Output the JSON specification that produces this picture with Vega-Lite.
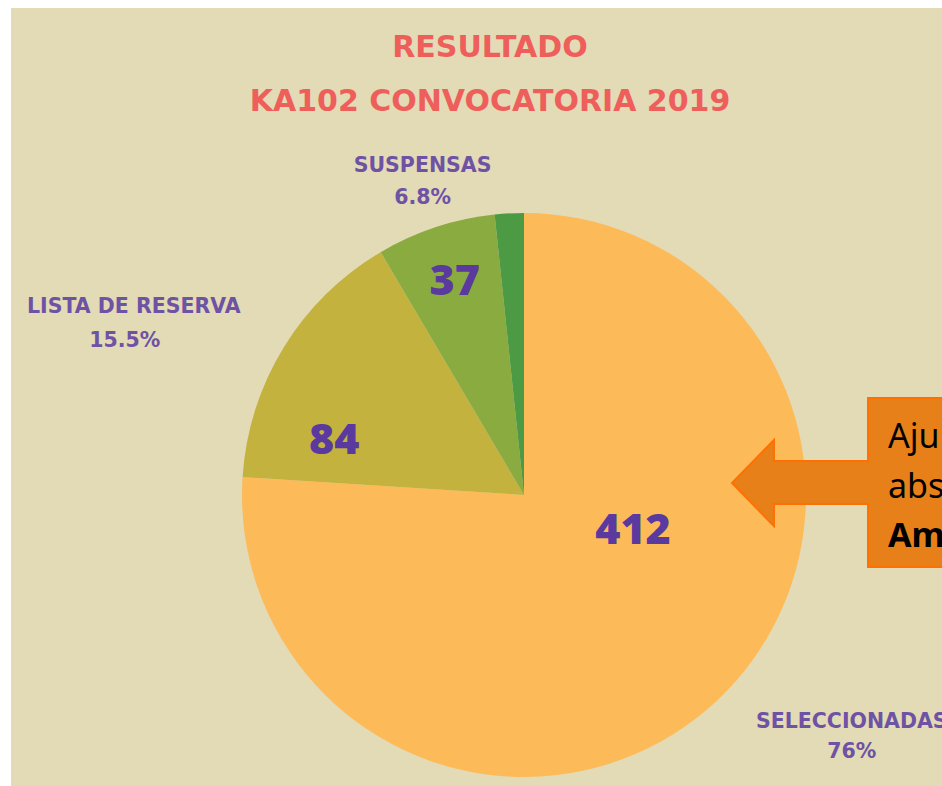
{
  "$schema": "https://vega.github.io/schema/vega-lite/v6.json",
  "width": 942,
  "height": 786,
  "autosize": {"type": "none"},
  "padding": 0,
  "background": "#FFFFFF",
  "view": {"stroke": null},
  "title": {
    "text": ["RESULTADO", "KA102 CONVOCATORIA 2019"],
    "font": "DejaVu Sans",
    "fontWeight": "bold",
    "fontSize": 30,
    "color": "#EE5F5B",
    "lineHeight": 54,
    "anchor": "middle",
    "frame": "group",
    "orient": "top",
    "dx": 19,
    "offset": -117
  },
  "data": {
    "values": [
      {"categoria": "SELECCIONADAS", "solicitudes": 412, "porcentaje": "76%", "orden": 1},
      {"categoria": "LISTA DE RESERVA", "solicitudes": 84, "porcentaje": "15.5%", "orden": 2},
      {"categoria": "SUSPENSAS", "solicitudes": 37, "porcentaje": "6.8%", "orden": 3},
      {"categoria": "OTRAS", "solicitudes": 9, "porcentaje": "1.7%", "orden": 4}
    ]
  },
  "layer": [
    {
      "data": {"values": [{}]},
      "mark": {"type": "rect", "fill": "#E3DAB6"},
      "encoding": {
        "x": {"datum": 11, "type": "quantitative", "scale": {"domain": [0, 942], "nice": false, "zero": false}, "axis": null},
        "x2": {"datum": 942},
        "y": {"datum": 8, "type": "quantitative", "scale": {"domain": [0, 786], "nice": false, "zero": false, "reverse": true}, "axis": null},
        "y2": {"datum": 786}
      }
    },
    {
      "mark": {"type": "arc", "outerRadius": 282},
      "encoding": {
        "theta": {"field": "solicitudes", "type": "quantitative", "stack": true},
        "order": {"field": "orden", "type": "quantitative"},
        "color": {"field": "categoria", "type": "nominal", "legend": null,
          "scale": {"domain": ["SELECCIONADAS", "LISTA DE RESERVA", "SUSPENSAS", "OTRAS"], "range": ["#FDBA59", "#C3B23E", "#8AAB40", "#4D9A45"]}},
        "x": {"datum": 524, "type": "quantitative", "scale": {"domain": [0, 942], "nice": false, "zero": false}, "axis": null},
        "y": {"datum": 495, "type": "quantitative", "scale": {"domain": [0, 786], "nice": false, "zero": false, "reverse": true}, "axis": null}
      }
    },
    {
      "mark": {"type": "text", "radius": 114, "dx": 31, "dy": -47, "font": "Open Sans", "fontWeight": 800, "fontSize": 43, "color": "#5A3A9E", "align": "center", "baseline": "middle"},
      "encoding": {
        "theta": {"field": "solicitudes", "type": "quantitative", "stack": true},
        "order": {"field": "orden", "type": "quantitative"},
        "x": {"datum": 524, "type": "quantitative", "scale": {"domain": [0, 942], "nice": false, "zero": false}, "axis": null},
        "y": {"datum": 495, "type": "quantitative", "scale": {"domain": [0, 786], "nice": false, "zero": false, "reverse": true}, "axis": null},
        "text": {"condition": {"test": "datum.categoria === 'SELECCIONADAS'", "field": "solicitudes"}, "value": ""}
      }
    },
    {
      "mark": {"type": "text", "radius": 191, "dx": -27, "dy": 46, "font": "Open Sans", "fontWeight": 800, "fontSize": 43, "color": "#5A3A9E", "align": "center", "baseline": "middle"},
      "encoding": {
        "theta": {"field": "solicitudes", "type": "quantitative", "stack": true},
        "order": {"field": "orden", "type": "quantitative"},
        "x": {"datum": 524, "type": "quantitative", "scale": {"domain": [0, 942], "nice": false, "zero": false}, "axis": null},
        "y": {"datum": 495, "type": "quantitative", "scale": {"domain": [0, 786], "nice": false, "zero": false, "reverse": true}, "axis": null},
        "text": {"condition": {"test": "datum.categoria === 'LISTA DE RESERVA'", "field": "solicitudes"}, "value": ""}
      }
    },
    {
      "mark": {"type": "text", "radius": 224, "dx": 1, "dy": 0, "font": "Open Sans", "fontWeight": 800, "fontSize": 43, "color": "#5A3A9E", "align": "center", "baseline": "middle"},
      "encoding": {
        "theta": {"field": "solicitudes", "type": "quantitative", "stack": true},
        "order": {"field": "orden", "type": "quantitative"},
        "x": {"datum": 524, "type": "quantitative", "scale": {"domain": [0, 942], "nice": false, "zero": false}, "axis": null},
        "y": {"datum": 495, "type": "quantitative", "scale": {"domain": [0, 786], "nice": false, "zero": false, "reverse": true}, "axis": null},
        "text": {"condition": {"test": "datum.categoria === 'SUSPENSAS'", "field": "solicitudes"}, "value": ""}
      }
    },
    {
      "mark": {"type": "text", "radius": 330, "dx": 2, "dy": -16, "font": "DejaVu Sans", "fontWeight": "bold", "fontSize": 20.5, "color": "#6E52A4", "align": "center", "baseline": "middle"},
      "encoding": {
        "theta": {"field": "solicitudes", "type": "quantitative", "stack": true},
        "order": {"field": "orden", "type": "quantitative"},
        "x": {"datum": 524, "type": "quantitative", "scale": {"domain": [0, 942], "nice": false, "zero": false}, "axis": null},
        "y": {"datum": 495, "type": "quantitative", "scale": {"domain": [0, 786], "nice": false, "zero": false, "reverse": true}, "axis": null},
        "text": {"condition": {"test": "datum.categoria === 'SUSPENSAS'", "field": "categoria"}, "value": ""}
      }
    },
    {
      "mark": {"type": "text", "radius": 330, "dx": 2, "dy": 16, "font": "DejaVu Sans", "fontWeight": "bold", "fontSize": 20.5, "color": "#6E52A4", "align": "center", "baseline": "middle"},
      "encoding": {
        "theta": {"field": "solicitudes", "type": "quantitative", "stack": true},
        "order": {"field": "orden", "type": "quantitative"},
        "x": {"datum": 524, "type": "quantitative", "scale": {"domain": [0, 942], "nice": false, "zero": false}, "axis": null},
        "y": {"datum": 495, "type": "quantitative", "scale": {"domain": [0, 786], "nice": false, "zero": false, "reverse": true}, "axis": null},
        "text": {"condition": {"test": "datum.categoria === 'SUSPENSAS'", "field": "porcentaje"}, "value": ""}
      }
    },
    {
      "mark": {"type": "text", "radius": 330, "dx": -109, "dy": -15, "font": "DejaVu Sans", "fontWeight": "bold", "fontSize": 20.5, "color": "#6E52A4", "align": "center", "baseline": "middle"},
      "encoding": {
        "theta": {"field": "solicitudes", "type": "quantitative", "stack": true},
        "order": {"field": "orden", "type": "quantitative"},
        "x": {"datum": 524, "type": "quantitative", "scale": {"domain": [0, 942], "nice": false, "zero": false}, "axis": null},
        "y": {"datum": 495, "type": "quantitative", "scale": {"domain": [0, 786], "nice": false, "zero": false, "reverse": true}, "axis": null},
        "text": {"condition": {"test": "datum.categoria === 'LISTA DE RESERVA'", "field": "categoria"}, "value": ""}
      }
    },
    {
      "mark": {"type": "text", "radius": 330, "dx": -118, "dy": 19, "font": "DejaVu Sans", "fontWeight": "bold", "fontSize": 20.5, "color": "#6E52A4", "align": "center", "baseline": "middle"},
      "encoding": {
        "theta": {"field": "solicitudes", "type": "quantitative", "stack": true},
        "order": {"field": "orden", "type": "quantitative"},
        "x": {"datum": 524, "type": "quantitative", "scale": {"domain": [0, 942], "nice": false, "zero": false}, "axis": null},
        "y": {"datum": 495, "type": "quantitative", "scale": {"domain": [0, 786], "nice": false, "zero": false, "reverse": true}, "axis": null},
        "text": {"condition": {"test": "datum.categoria === 'LISTA DE RESERVA'", "field": "porcentaje"}, "value": ""}
      }
    },
    {
      "mark": {"type": "text", "radius": 330, "dx": 102, "dy": -14, "font": "DejaVu Sans", "fontWeight": "bold", "fontSize": 20.5, "color": "#6E52A4", "align": "center", "baseline": "middle"},
      "encoding": {
        "theta": {"field": "solicitudes", "type": "quantitative", "stack": true},
        "order": {"field": "orden", "type": "quantitative"},
        "x": {"datum": 524, "type": "quantitative", "scale": {"domain": [0, 942], "nice": false, "zero": false}, "axis": null},
        "y": {"datum": 495, "type": "quantitative", "scale": {"domain": [0, 786], "nice": false, "zero": false, "reverse": true}, "axis": null},
        "text": {"condition": {"test": "datum.categoria === 'SELECCIONADAS'", "field": "categoria"}, "value": ""}
      }
    },
    {
      "mark": {"type": "text", "radius": 330, "dx": 102, "dy": 16, "font": "DejaVu Sans", "fontWeight": "bold", "fontSize": 20.5, "color": "#6E52A4", "align": "center", "baseline": "middle"},
      "encoding": {
        "theta": {"field": "solicitudes", "type": "quantitative", "stack": true},
        "order": {"field": "orden", "type": "quantitative"},
        "x": {"datum": 524, "type": "quantitative", "scale": {"domain": [0, 942], "nice": false, "zero": false}, "axis": null},
        "y": {"datum": 495, "type": "quantitative", "scale": {"domain": [0, 786], "nice": false, "zero": false, "reverse": true}, "axis": null},
        "text": {"condition": {"test": "datum.categoria === 'SELECCIONADAS'", "field": "porcentaje"}, "value": ""}
      }
    },
    {
      "data": {"values": [{}]},
      "mark": {"type": "point", "filled": true, "opacity": 1, "fill": "#E8801A", "stroke": "#FF7000", "strokeWidth": 2, "size": 47524,
        "shape": "M0.248,-0.775L1,-0.775L1,0.775L0.248,0.775L0.248,0.197L-0.615,0.197L-0.615,0.399L-1,0.005L-0.615,-0.390L-0.615,-0.197L0.248,-0.197Z"},
      "encoding": {
        "x": {"datum": 841, "type": "quantitative", "scale": {"domain": [0, 942], "nice": false, "zero": false}, "axis": null},
        "y": {"datum": 482.5, "type": "quantitative", "scale": {"domain": [0, 786], "nice": false, "zero": false, "reverse": true}, "axis": null}
      }
    },
    {
      "data": {"values": [{}]},
      "mark": {"type": "text", "font": "Noto Sans", "fontSize": 34, "color": "#000000", "align": "left", "baseline": "alphabetic", "lineBreak": "|", "lineHeight": 49.5},
      "encoding": {
        "x": {"datum": 888, "type": "quantitative", "scale": {"domain": [0, 942], "nice": false, "zero": false}, "axis": null},
        "y": {"datum": 448, "type": "quantitative", "scale": {"domain": [0, 786], "nice": false, "zero": false, "reverse": true}, "axis": null},
        "text": {"value": "Aju|abs"}
      }
    },
    {
      "data": {"values": [{}]},
      "mark": {"type": "text", "font": "Noto Sans", "fontWeight": "bold", "fontSize": 34, "color": "#000000", "align": "left", "baseline": "alphabetic"},
      "encoding": {
        "x": {"datum": 888, "type": "quantitative", "scale": {"domain": [0, 942], "nice": false, "zero": false}, "axis": null},
        "y": {"datum": 547, "type": "quantitative", "scale": {"domain": [0, 786], "nice": false, "zero": false, "reverse": true}, "axis": null},
        "text": {"value": "Am"}
      }
    }
  ]
}
